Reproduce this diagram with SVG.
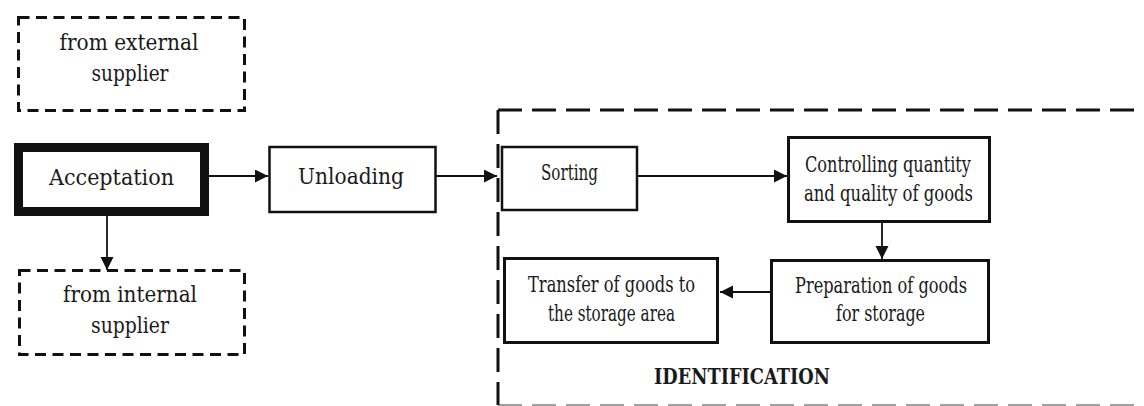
<svg xmlns="http://www.w3.org/2000/svg" width="1144" height="406" viewBox="0 0 1144 406">
<style>
.t{font-family:'DejaVu Serif','Liberation Serif',serif;font-size:23px;fill:#1a1a1a;text-anchor:middle}
.b{font-weight:bold}
.box{fill:#fff;stroke:#111}
.dash{fill:none;stroke:#111;stroke-width:3;stroke-dasharray:11 6.5}
.big{fill:none;stroke:#111;stroke-width:3;stroke-dasharray:24 10}
.c{fill:none;stroke:#111;stroke-width:1.8}
</style>
<defs>
<marker id="ah" markerUnits="userSpaceOnUse" markerWidth="14" markerHeight="14" refX="13" refY="6.5" orient="auto">
<path d="M0,0 L13,6.5 L0,13 z" fill="#111"/>
</marker>
</defs>
<g id="identification-boundary">
<path class="big" d="M498 110 H1150"/>
<path class="big" d="M498 110 V405"/>
<path class="big" d="M498 405.5 H1150" stroke-opacity="0.4"/>
</g>
<g id="external">
<rect class="dash" x="18.5" y="17.5" width="226" height="93"/>
<text class="t" x="129" y="50" textLength="139" lengthAdjust="spacingAndGlyphs">from external</text>
<text class="t" x="130" y="81" textLength="77" lengthAdjust="spacingAndGlyphs">supplier</text>
</g>
<g id="acceptation">
<rect class="box" x="18.5" y="147.5" width="186" height="64" stroke-width="9"/>
<text class="t" x="111.5" y="185" textLength="125" lengthAdjust="spacingAndGlyphs">Acceptation</text>
</g>
<g id="internal">
<rect class="dash" x="19.5" y="270.5" width="225" height="84"/>
<text class="t" x="130" y="302" textLength="134" lengthAdjust="spacingAndGlyphs">from internal</text>
<text class="t" x="130" y="333" textLength="78" lengthAdjust="spacingAndGlyphs">supplier</text>
</g>
<g id="unloading">
<rect class="box" x="269.5" y="147" width="166" height="65" stroke-width="2.5"/>
<text class="t" x="351" y="184" textLength="106" lengthAdjust="spacingAndGlyphs">Unloading</text>
</g>
<g id="sorting">
<rect class="box" x="502" y="147" width="135" height="63" stroke-width="2.5"/>
<text class="t" x="569.5" y="180" textLength="57" lengthAdjust="spacingAndGlyphs">Sorting</text>
</g>
<g id="controlling">
<rect class="box" x="788.5" y="137.5" width="201" height="84" stroke-width="3"/>
<text class="t" x="888" y="172" textLength="166" lengthAdjust="spacingAndGlyphs">Controlling quantity</text>
<text class="t" x="888.5" y="201" textLength="169" lengthAdjust="spacingAndGlyphs">and quality of goods</text>
</g>
<g id="preparation">
<rect class="box" x="771.5" y="260.5" width="217" height="82" stroke-width="3"/>
<text class="t" x="881" y="293" textLength="172" lengthAdjust="spacingAndGlyphs">Preparation of goods</text>
<text class="t" x="880.5" y="321" textLength="89" lengthAdjust="spacingAndGlyphs">for storage</text>
</g>
<g id="transfer">
<rect class="box" x="504.5" y="258.5" width="213" height="84" stroke-width="3"/>
<text class="t" x="611.5" y="292" textLength="167" lengthAdjust="spacingAndGlyphs">Transfer of goods to</text>
<text class="t" x="611.5" y="321" textLength="127" lengthAdjust="spacingAndGlyphs">the storage area</text>
</g>
<g id="label">
<text class="t b" x="742" y="384" textLength="176" lengthAdjust="spacingAndGlyphs">IDENTIFICATION</text>
</g>
<g id="connectors">
<path class="c" d="M209 176 H268" marker-end="url(#ah)"/>
<path class="c" d="M107 216 V270" marker-end="url(#ah)"/>
<path class="c" d="M436 176 H497" marker-end="url(#ah)"/>
<path class="c" d="M638 176 H787" marker-end="url(#ah)"/>
<path class="c" d="M882 223 V259" marker-end="url(#ah)"/>
<path class="c" d="M770 292 H720" marker-end="url(#ah)"/>
</g>
</svg>
